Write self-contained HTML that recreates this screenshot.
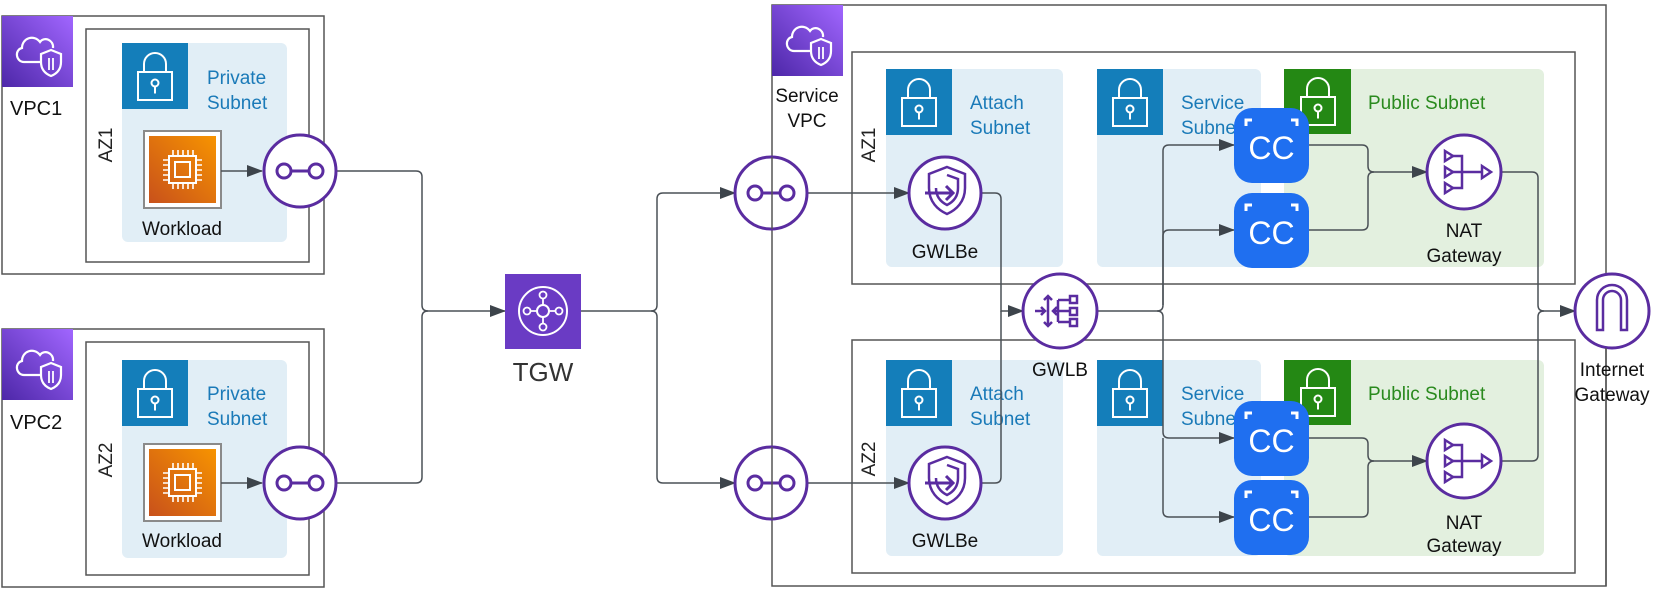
<!DOCTYPE html>
<html><head><meta charset="utf-8"><style>
html,body{margin:0;padding:0;background:#fff}
svg{display:block}
text{font-family:"Liberation Sans",Arial,sans-serif}
</style></head><body>
<svg width="1657" height="594" viewBox="0 0 1657 594" xmlns="http://www.w3.org/2000/svg">
<defs>
<marker id="a" markerUnits="userSpaceOnUse" markerWidth="16" markerHeight="12" refX="15" refY="6" orient="auto"><path d="M0,0 L16,6 L0,12 z" fill="#3d444b"/></marker>
<linearGradient id="pg" x1="1" y1="0" x2="0" y2="1"><stop offset="0" stop-color="#a166ff"/><stop offset="1" stop-color="#4d27a8"/></linearGradient>
<linearGradient id="og" x1="1" y1="0" x2="0" y2="1"><stop offset="0" stop-color="#f79400"/><stop offset="1" stop-color="#c8511b"/></linearGradient>
<g id="vpcicon">
<rect width="71" height="71" fill="url(#pg)"/>
<path d="M22,46 h18 M22,46 c-8,0 -10,-12 -2,-14 c0,-10 12,-14 18,-6 c4,-6 14,-2 13,6" fill="none" stroke="#fff" stroke-width="2.2"/>
<path d="M49,34 l10,4 v8 c0,8 -5,12 -10,14 c-5,-2 -10,-6 -10,-14 v-8 z" fill="none" stroke="#fff" stroke-width="2.2"/>
<path d="M47,42 v12 M51,42 v12" stroke="#fff" stroke-width="1.8"/>
</g>
<g id="lock">
<rect width="66" height="66" fill="#147eba"/>
<rect x="16" y="29" width="34" height="28" fill="none" stroke="#fff" stroke-width="2"/>
<path d="M22,29 v-8 a11,11 0 0 1 22,0 v8" fill="none" stroke="#fff" stroke-width="2"/>
<circle cx="33" cy="40" r="3.5" fill="none" stroke="#fff" stroke-width="2"/><path d="M33,43.5 v7" stroke="#fff" stroke-width="2"/>
</g>
<g id="glock">
<rect width="67" height="65" fill="#248814"/>
<rect x="17" y="28" width="34" height="28" fill="none" stroke="#fff" stroke-width="2"/>
<path d="M23,28 v-8 a11,11 0 0 1 22,0 v8" fill="none" stroke="#fff" stroke-width="2"/>
<circle cx="34" cy="39" r="3.5" fill="none" stroke="#fff" stroke-width="2"/><path d="M34,42.5 v7" stroke="#fff" stroke-width="2"/>
</g>
<g id="chip">
<rect width="77" height="77" fill="#fff" stroke="#8a8a8a" stroke-width="2"/>
<rect x="5" y="5" width="67" height="67" fill="url(#og)"/>
<rect x="25" y="25" width="27" height="27" fill="none" stroke="#fff" stroke-width="2"/>
<rect x="31" y="31" width="15" height="15" fill="none" stroke="#fff" stroke-width="2"/>
<path d="M29,25 v-6 M34,25 v-6 M39,25 v-6 M44,25 v-6 M49,25 v-6 M29,52 v6 M34,52 v6 M39,52 v6 M44,52 v6 M49,52 v6 M25,29 h-6 M25,34 h-6 M25,39 h-6 M25,44 h-6 M25,49 h-6 M52,29 h6 M52,34 h6 M52,39 h6 M52,44 h6 M52,49 h6" stroke="#fff" stroke-width="1.6"/>
</g>
<g id="ep">
<circle r="36" fill="#fff" stroke="#5a2ca0" stroke-width="3"/>
<circle cx="-16" r="7" fill="#fff" stroke="#5a2ca0" stroke-width="3"/>
<circle cx="16" r="7" fill="#fff" stroke="#5a2ca0" stroke-width="3"/>
<path d="M-9,0 H9" stroke="#5a2ca0" stroke-width="3"/>
</g>
<g id="gwlbe">
<circle r="36" fill="#fff" stroke="#5a2ca0" stroke-width="3"/>
<path d="M2,-26 l18,7 v14 c0,14 -9,22 -18,26 c-9,-4 -18,-12 -18,-26 v-14 z" fill="none" stroke="#5a2ca0" stroke-width="2.5"/>
<path d="M2,-18 l11,4 v9 c0,9 -5,14 -11,17 c-6,-3 -11,-8 -11,-17" fill="none" stroke="#5a2ca0" stroke-width="2.5"/>
<path d="M-20,0 H8 M1,-7 l7,7 l-7,7" fill="none" stroke="#5a2ca0" stroke-width="3"/>
</g>
<g id="cc">
<rect width="75" height="75" rx="18" fill="#1f6ff0"/>
<path d="M12,18 v-6 h6 M63,18 v-6 h-6" fill="none" stroke="#fff" stroke-width="3"/>
<text x="37.5" y="51" text-anchor="middle" font-size="32" fill="#fff">CC</text>
</g>
<g id="nat">
<circle r="37" fill="#fff" stroke="#5a2ca0" stroke-width="3"/>
<path d="M-19,-21 l8,5 l-8,5 z M-19,-5 l8,5 l-8,5 z M-19,11 l8,5 l-8,5 z M18,-6 l9,6 l-9,6 z" fill="none" stroke="#5a2ca0" stroke-width="2.5"/>
<path d="M-11,-16 H-2 V16 H-11 M-11,0 H18" fill="none" stroke="#5a2ca0" stroke-width="2.5"/>
</g>
</defs>

<!-- LEFT VPC1 -->
<rect x="2" y="16" width="322" height="258" fill="#fff" stroke="#555" stroke-width="1.5"/>
<use href="#vpcicon" x="2" y="16"/>
<text x="10" y="115" font-size="20" fill="#111">VPC1</text>
<rect x="86" y="29" width="223" height="233" fill="none" stroke="#555" stroke-width="1.5"/>
<rect x="122" y="43" width="165" height="199" rx="6" fill="#e1eef6"/>
<use href="#lock" x="122" y="43"/>
<text x="207" y="84" font-size="19" fill="#1a7ab8">Private</text>
<text x="207" y="109" font-size="19" fill="#1a7ab8">Subnet</text>
<text transform="translate(112,145) rotate(-90)" text-anchor="middle" font-size="19" fill="#222">AZ1</text>
<use href="#chip" x="144" y="131"/>
<text x="182" y="235" text-anchor="middle" font-size="19" fill="#111">Workload</text>
<path d="M221,171 H262" stroke="#4a5056" stroke-width="1.5" marker-end="url(#a)"/>

<!-- LEFT VPC2 -->
<rect x="2" y="329" width="322" height="258" fill="#fff" stroke="#555" stroke-width="1.5"/>
<use href="#vpcicon" x="2" y="329"/>
<text x="10" y="429" font-size="20" fill="#111">VPC2</text>
<rect x="86" y="342" width="223" height="233" fill="none" stroke="#555" stroke-width="1.5"/>
<rect x="122" y="360" width="165" height="198" rx="6" fill="#e1eef6"/>
<use href="#lock" x="122" y="360"/>
<text x="207" y="400" font-size="19" fill="#1a7ab8">Private</text>
<text x="207" y="425" font-size="19" fill="#1a7ab8">Subnet</text>
<text transform="translate(112,460) rotate(-90)" text-anchor="middle" font-size="19" fill="#222">AZ2</text>
<use href="#chip" x="144" y="444"/>
<text x="182" y="547" text-anchor="middle" font-size="19" fill="#111">Workload</text>
<path d="M221,483 H262" stroke="#4a5056" stroke-width="1.5" marker-end="url(#a)"/>

<!-- Service VPC -->
<rect x="772" y="5" width="834" height="581" fill="none" stroke="#555" stroke-width="1.5"/>
<use href="#vpcicon" x="772" y="5"/>
<text x="807" y="102" text-anchor="middle" font-size="19" fill="#111">Service</text>
<text x="807" y="127" text-anchor="middle" font-size="19" fill="#111">VPC</text>

<rect x="852" y="52" width="723" height="232" fill="#fff" stroke="#555" stroke-width="1.5"/>
<rect x="852" y="340" width="723" height="233" fill="#fff" stroke="#555" stroke-width="1.5"/>
<text transform="translate(875,145) rotate(-90)" text-anchor="middle" font-size="19" fill="#222">AZ1</text>
<text transform="translate(875,459) rotate(-90)" text-anchor="middle" font-size="19" fill="#222">AZ2</text>

<!-- AZ1 subnets -->
<rect x="886" y="69" width="177" height="198" rx="6" fill="#e1eef6"/>
<use href="#lock" x="886" y="69"/>
<text x="970" y="109" font-size="19" fill="#1a7ab8">Attach</text>
<text x="970" y="134" font-size="19" fill="#1a7ab8">Subnet</text>
<rect x="1097" y="69" width="164" height="198" rx="6" fill="#e1eef6"/>
<use href="#lock" x="1097" y="69"/>
<text x="1181" y="109" font-size="19" fill="#1a7ab8">Service</text>
<text x="1181" y="134" font-size="19" fill="#1a7ab8">Subnet</text>
<rect x="1284" y="69" width="260" height="198" rx="6" fill="#e3f0df"/>
<use href="#glock" x="1284" y="69"/>
<text x="1368" y="109" font-size="19" fill="#2a8a1e">Public Subnet</text>

<!-- AZ2 subnets -->
<rect x="886" y="360" width="177" height="196" rx="6" fill="#e1eef6"/>
<use href="#lock" x="886" y="360"/>
<text x="970" y="400" font-size="19" fill="#1a7ab8">Attach</text>
<text x="970" y="425" font-size="19" fill="#1a7ab8">Subnet</text>
<rect x="1097" y="360" width="164" height="196" rx="6" fill="#e1eef6"/>
<use href="#lock" x="1097" y="360"/>
<text x="1181" y="400" font-size="19" fill="#1a7ab8">Service</text>
<text x="1181" y="425" font-size="19" fill="#1a7ab8">Subnet</text>
<rect x="1284" y="360" width="260" height="196" rx="6" fill="#e3f0df"/>
<use href="#glock" x="1284" y="360"/>
<text x="1368" y="400" font-size="19" fill="#2a8a1e">Public Subnet</text>

<!-- connectors -->
<g fill="none" stroke="#4a5056" stroke-width="1.5">
<path d="M336,171 H416 q6,0 6,6 V305 q0,6 6,6 H505" marker-end="url(#a)"/>
<path d="M336,483 H416 q6,0 6,-6 V317 q0,-6 6,-6"/>
<path d="M581,311 H651 q6,0 6,-6 V199 q0,-6 6,-6 H735" marker-end="url(#a)"/>
<path d="M651,311 q6,0 6,6 V477 q0,6 6,6 H735" marker-end="url(#a)"/>
<path d="M806,193 H909" marker-end="url(#a)"/>
<path d="M806,483 H909" marker-end="url(#a)"/>
<path d="M981,193 H995 q6,0 6,6 V311 H1023" marker-end="url(#a)"/>
<path d="M981,483 H995 q6,0 6,-6 V311"/>
<path d="M1097,311 H1157 q6,0 6,-6 V151 q0,-6 6,-6 H1234" marker-end="url(#a)"/>
<path d="M1163,305 V236 q0,-6 6,-6 H1234" marker-end="url(#a)"/>
<path d="M1157,311 q6,0 6,6 V432 q0,6 6,6 H1234" marker-end="url(#a)"/>
<path d="M1163,438 V511 q0,6 6,6 H1234" marker-end="url(#a)"/>
<path d="M1309,145 H1362 q6,0 6,6 V166 q0,6 6,6 H1427" marker-end="url(#a)"/>
<path d="M1309,230 H1362 q6,0 6,-6 V178 q0,-6 6,-6"/>
<path d="M1309,438 H1362 q6,0 6,6 V455 q0,6 6,6 H1427" marker-end="url(#a)"/>
<path d="M1309,517 H1362 q6,0 6,-6 V467 q0,-6 6,-6"/>
<path d="M1501,172 H1532 q6,0 6,6 V305 q0,6 6,6 H1575" marker-end="url(#a)"/>
<path d="M1501,461 H1532 q6,0 6,-6 V317 q0,-6 6,-6"/>
</g>

<!-- nodes -->
<use href="#ep" x="300" y="171"/>
<use href="#ep" x="300" y="483"/>
<use href="#ep" x="771" y="193"/>
<use href="#ep" x="771" y="483"/>
<path d="M772,157 V229 M772,447 V519" stroke="#555" stroke-width="1.5"/>

<rect x="505" y="274" width="76" height="75" fill="#6a3bc4"/>
<circle cx="543" cy="311" r="24" fill="none" stroke="#fff" stroke-width="2"/>
<circle cx="543" cy="311" r="6" fill="none" stroke="#fff" stroke-width="2"/>
<circle cx="543" cy="295" r="3.5" fill="none" stroke="#fff" stroke-width="1.8"/>
<circle cx="543" cy="327" r="3.5" fill="none" stroke="#fff" stroke-width="1.8"/>
<circle cx="527" cy="311" r="3.5" fill="none" stroke="#fff" stroke-width="1.8"/>
<circle cx="559" cy="311" r="3.5" fill="none" stroke="#fff" stroke-width="1.8"/>
<path d="M543,298.5 V305 M543,317 V323.5 M530.5,311 H537 M549,311 H555.5" stroke="#fff" stroke-width="1.8"/>
<text x="543" y="381" text-anchor="middle" font-size="26" fill="#333">TGW</text>

<use href="#gwlbe" x="945" y="193"/>
<text x="945" y="258" text-anchor="middle" font-size="19" fill="#111">GWLBe</text>
<use href="#gwlbe" x="945" y="483"/>
<text x="945" y="547" text-anchor="middle" font-size="19" fill="#111">GWLBe</text>

<circle cx="1060" cy="311" r="37" fill="#fff" stroke="#5a2ca0" stroke-width="3"/>
<g fill="none" stroke="#5a2ca0" stroke-width="2.5">
<path d="M1044,311 H1035 M1041,307 l4,4 l-4,4 M1048,296 V326 M1044,300 l4,-4 l4,4 M1044,322 l4,4 l4,-4 M1070,311 H1053 M1057,307 l-4,4 l4,4"/>
<path d="M1058,300 V322 M1058,300 H1070 M1058,322 H1070"/>
<rect x="1070" y="296" width="7" height="7"/><rect x="1070" y="308" width="7" height="7"/><rect x="1070" y="319" width="7" height="7"/>
</g>
<text x="1060" y="376" text-anchor="middle" font-size="19" fill="#111">GWLB</text>

<use href="#cc" x="1234" y="108"/>
<use href="#cc" x="1234" y="193"/>
<use href="#cc" x="1234" y="401"/>
<use href="#cc" x="1234" y="480"/>

<use href="#nat" x="1464" y="172"/>
<text x="1464" y="237" text-anchor="middle" font-size="19" fill="#111">NAT</text>
<text x="1464" y="262" text-anchor="middle" font-size="19" fill="#111">Gateway</text>
<use href="#nat" x="1464" y="461"/>
<text x="1464" y="529" text-anchor="middle" font-size="19" fill="#111">NAT</text>
<text x="1464" y="552" text-anchor="middle" font-size="19" fill="#111">Gateway</text>

<circle cx="1612" cy="311" r="37" fill="#fff" stroke="#5a2ca0" stroke-width="3"/>
<path d="M1597,330 V300 a15,15 0 0 1 30,0 V330 H1621 V300 a9,9 0 0 0 -18,0 V330 z" fill="none" stroke="#5a2ca0" stroke-width="2.5"/>
<path d="M1606,348 V586" stroke="#555" stroke-width="1.5"/>
<text x="1612" y="376" text-anchor="middle" font-size="19" fill="#111">Internet</text>
<text x="1612" y="401" text-anchor="middle" font-size="19" fill="#111">Gateway</text>
</svg>
</body></html>
